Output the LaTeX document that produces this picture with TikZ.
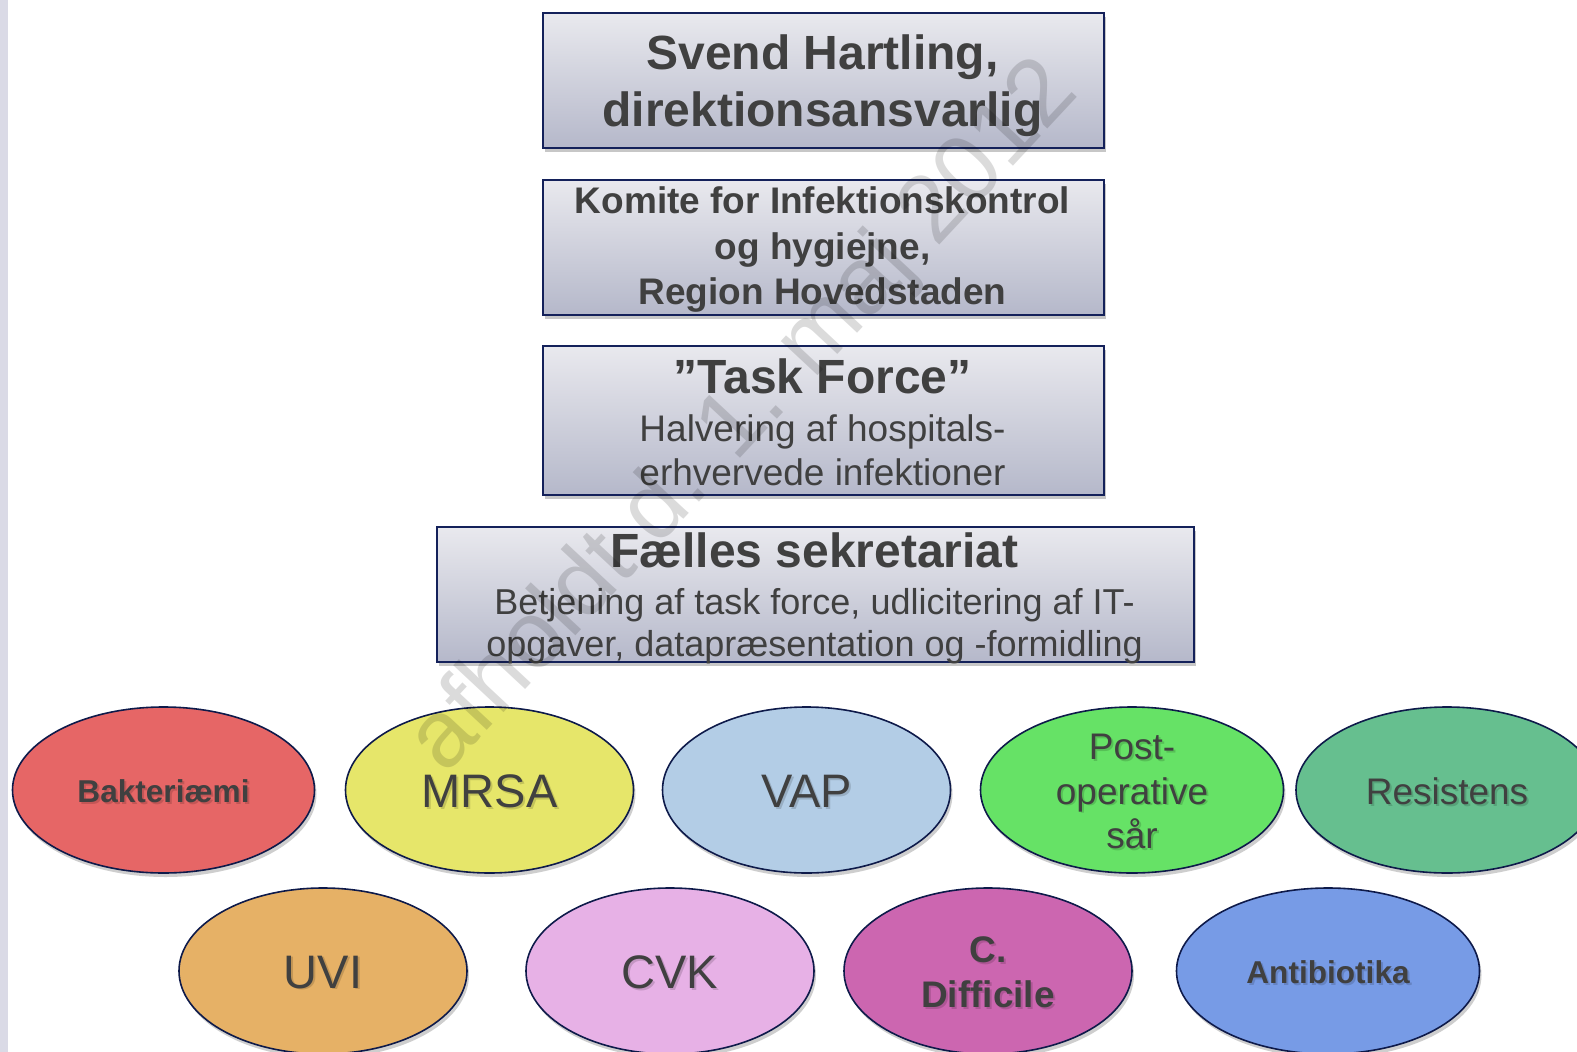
\documentclass[tikz,border=0pt]{standalone}
\usepackage{fontspec}
\setmainfont{Liberation Sans}
\usetikzlibrary{shapes.geometric,shadows}
\definecolor{boxline}{HTML}{14215A}
\definecolor{elline}{HTML}{0E1A4A}
\definecolor{boxtop}{HTML}{E9E9EE}
\definecolor{boxbot}{HTML}{B5B8CA}
\definecolor{txt}{HTML}{404040}
\definecolor{strip}{HTML}{DADAE6}
\definecolor{cbak}{HTML}{E66666}
\definecolor{cmrsa}{HTML}{E6E66A}
\definecolor{cvap}{HTML}{B3CDE6}
\definecolor{cpost}{HTML}{66E266}
\definecolor{cres}{HTML}{66BF8F}
\definecolor{cuvi}{HTML}{E6B166}
\definecolor{ccvk}{HTML}{E7B1E6}
\definecolor{cdif}{HTML}{CC66B0}
\definecolor{canti}{HTML}{779BE6}
\newcommand\hdfont{\fontsize{48}{57}\selectfont\bfseries}
\newcommand\mdbold{\fontsize{37}{45}\selectfont\bfseries}
\newcommand\mdreg{\fontsize{37}{44.5}\selectfont}
\newcommand\smreg{\fontsize{36}{42}\selectfont}
\newcommand\bigreg{\fontsize{47}{50}\selectfont}
\newcommand\smbold{\fontsize{31.6}{36}\selectfont\bfseries}
\tikzset{
  orgbox/.style={draw=boxline, line width=2.2pt, top color=boxtop, bottom color=boxbot,
    rectangle, inner sep=0pt, anchor=north west,
    drop shadow={shadow xshift=2pt, shadow yshift=-4pt, opacity=.4, fill=black!55}},
  boxtxt/.style={anchor=base, inner sep=0pt, text=txt},
  blob/.style={ellipse, draw=elline, line width=1.6pt, inner sep=0pt, minimum height=166pt,
    drop shadow={shadow xshift=2pt, shadow yshift=-4pt, opacity=.35, fill=black!55}},
  lbl/.style={inner sep=0pt, align=center, text=txt},
}
\newcommand\blob[7]{%
  \node[blob, minimum width=#4, fill=#5] (#1) at (#2,#3) {};
  \node[lbl, font=#6, text=black, opacity=.15] (#1-s) at ([shift={(2,3)}]#1.center) {#7};
  \node[lbl, font=#6] (#1-t) at ([shift={(0,1.5)}]#1.center) {#7};}
\begin{document}
\begin{tikzpicture}[x=1pt,y=-1pt]
\useasboundingbox (0,0) rectangle (1577,1052);
\clip (0,0) rectangle (1577,1052);
\fill[white] (0,0) rectangle (1577,1052);
\fill[strip] (0,0) rectangle (8,1052);

% boxes
\node[orgbox, minimum width=561pt, minimum height=135pt] (b1) at (542,12) {};
\node[orgbox, minimum width=561pt, minimum height=135pt] (b2) at (542,178.5) {};
\node[orgbox, minimum width=561pt, minimum height=149.5pt] (b3) at (542,344.5) {};
\node[orgbox, minimum width=757pt, minimum height=135pt] (b4) at (436,526) {};

\node[boxtxt, font=\hdfont] (b1a) at (822.5,69) {Svend Hartling,};
\node[boxtxt, font=\hdfont] (b1b) at (822.5,126.5) {direktionsansvarlig};

\node[boxtxt, font=\mdbold] (b2a) at (822.5,213.5) {Komite for Infektionskontrol};
\node[boxtxt, font=\mdbold] (b2b) at (822.5,259.5) {og hygiejne,};
\node[boxtxt, font=\mdbold] (b2c) at (822.5,304.5) {Region Hovedstaden};

\node[boxtxt, font=\hdfont] (b3a) at (822.5,393) {”Task Force”};
\node[boxtxt, font=\mdreg] (b3b) at (822.5,441) {Halvering af hospitals-};
\node[boxtxt, font=\mdreg] (b3c) at (822.5,485) {erhvervede infektioner};

\node[boxtxt, font=\hdfont] (b4a) at (814.5,567) {Fælles sekretariat};
\node[boxtxt, font=\smreg] (b4b) at (814.5,614) {Betjening af task force, udlicitering af IT-};
\node[boxtxt, font=\smreg] (b4c) at (814.5,656) {opgaver, datapræsentation og -formidling};

% ellipses
\blob{bak}{163.5}{790}{302pt}{cbak}{\smbold}{Bakteriæmi}
\blob{mrsa}{489.5}{790}{288pt}{cmrsa}{\bigreg}{MRSA}
\blob{vap}{806.5}{790}{288pt}{cvap}{\bigreg}{VAP}
\blob{post}{1132}{790}{303pt}{cpost}{\mdreg}{Post-\\operative\\sår}
\blob{res}{1447}{790}{302pt}{cres}{\mdreg}{Resistens}
\blob{uvi}{323}{971}{288pt}{cuvi}{\bigreg}{UVI}
\blob{cvk}{670}{971}{288pt}{ccvk}{\bigreg}{CVK}
\blob{cdif}{988}{971}{288pt}{cdif}{\mdbold}{C.\\Difficile}
\blob{anti}{1328}{971}{303pt}{canti}{\smbold}{Antibiotika}

% watermark
\node[rotate=47, inner sep=0pt, font=\fontsize{95}{100}\selectfont, text=black, opacity=.14] (wm) at (745,418) {afholdt d. 1. maj 2012};
\end{tikzpicture}
\end{document}
